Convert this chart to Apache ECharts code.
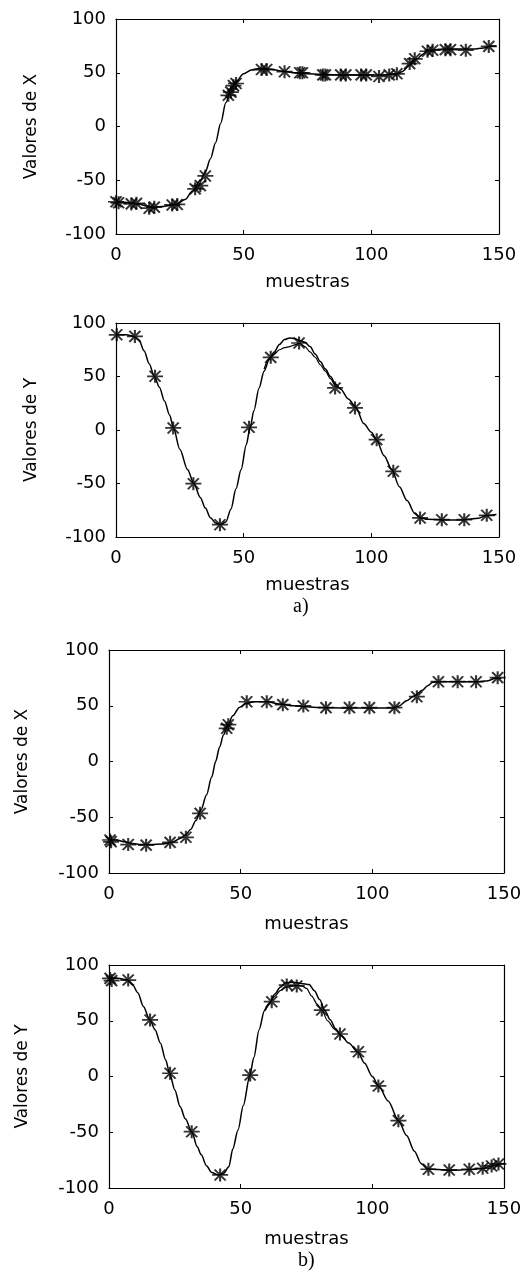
<!DOCTYPE html>
<html>
<head>
<meta charset="utf-8">
<script src="https://cdn.jsdelivr.net/npm/echarts@6/dist/echarts.min.js"></script>
<style>
html,body{margin:0;padding:0;background:#fff;}
#c{width:532px;height:1273px;}
</style>
</head>
<body>
<div id="c"></div>
<script>
// ---------- DATA ----------
const xTicks = [0, 50, 100, 150];
const yTicks = [-100, -50, 0, 50, 100];
const xName = 'muestras';
const yNames = ['Valores de X', 'Valores de Y', 'Valores de X', 'Valores de Y'];
const panelLabels = ['a)', 'b)'];

// Panel a) X : real trajectory [muestra, valor]
const realXa = [[0,-70],[3,-70.5],[6,-71],[9,-72],[12,-74],[15,-75],[18,-74.5],[21,-73.5],[24,-72],[27,-68],[30,-60],[33,-50],[35,-42],[37,-30],[39,-15],[41,3],[43,22],[45,34],[47,42],[50,49],[53,52.5],[56,54],[60,53.5],[65,51.5],[70,50],[75,49],[80,48.5],[90,48],[100,48],[105,48],[110,49],[112,51],[115,57],[118,63],[120,67],[122,70.5],[125,71.5],[130,72],[135,72],[140,72],[144,73],[147,75],[149,75]];
// Panel a) X : estimated samples (stars)
const estXa = [[0,-70],[1,-71],[6,-72],[8,-71.5],[13,-76],[15,-75],[22,-73],[24,-72.5],[31,-58],[33,-55],[35,-46],[44,29],[45,32],[46,38],[47,40],[57,53],[59,53],[66,51],[72,50],[73,50],[81,48],[82,48],[88,48],[90,48],[96,48],[98,48],[103,46.5],[107,48],[110,49],[115,58.5],[117,63],[122,70],[124,71],[129,71.5],[131,71.5],[137,71],[146,74.5]];

// Panel a) Y
const realYa = [[0,89],[4,89],[7,87.5],[9,84],[11,74],[13,62],[15,50],[17,40],[19,27],[21,14],[22.5,2],[25,-18],[28,-37],[30.5,-50],[33,-63],[35,-73],[37,-82],[39,-87],[41,-88.5],[43,-86],[45,-74],[47,-55],[49,-37],[51,-14],[52.5,2],[54,18],[56,39],[58,55],[60,66],[62,73],[64,80],[66,84.5],[68,86],[70,85.5],[72,83.5],[74,82],[76,78],[78,71],[80,64],[82,57],[84,50],[86,43],[88,38],[91,29],[94,21],[97,6],[100,-2],[102,-9],[105,-24],[108,-37],[111,-53],[114,-66],[117,-78],[119,-82],[122,-83.5],[128,-84],[136,-84],[142,-82.5],[145,-80],[149,-79]];
const estLineYa = [[58,57],[60,67],[62,71],[64,75],[66,77],[68,78],[70,79.5],[72,81],[74,78],[76,73],[78,68],[80,61],[82,55],[84,48],[86,41],[88,38]];
const estYa = [[0.3,89],[7.4,87.5],[15.3,50.2],[22.4,1.9],[30.3,-50.2],[40.7,-88.5],[52.1,2.5],[60.6,67.9],[71.7,81.3],[85.8,39.3],[93.6,20.6],[102.1,-9],[108.6,-38.6],[119.1,-82.2],[127.6,-83.8],[136.4,-83.8],[145.2,-79.7]];

// Panel b) X
const realXb = [[0,-70],[3,-70.5],[6,-72],[9,-73.5],[12,-74.5],[16,-74.5],[20,-74],[24,-72.5],[27,-69],[29,-66],[31,-61],[33,-53],[35,-43],[37,-30],[39,-14],[40.5,0],[42,13],[43.5,24],[45,32],[47,41],[49.5,48.5],[52,52],[55,53.5],[60,53.5],[65,51.5],[70,50],[75,49],[80,48.5],[90,48],[100,48],[108,48],[110,49.5],[113,54.5],[116,59],[119,64],[121,68],[123,71],[126,71.5],[132,71.5],[140,71.5],[144,72.5],[147,75],[149,74.5]];
const estXb = [[0.4,-70.4],[0.8,-72],[7.3,-74.5],[14.1,-75],[23.2,-72.5],[29.2,-68],[34.6,-46.5],[44.7,29.8],[45.3,33],[52.3,53.6],[59.9,53.6],[66,51],[73.8,49.8],[82.4,48.3],[91.3,48.3],[98.9,48.3],[108.4,48.3],[116.9,58.1],[125.1,71.6],[132.4,71.6],[139.4,71.6],[147.6,75.2]];

// Panel b) Y
const realYb = [[0,88.5],[4,88],[7,86.5],[9,82],[11,75],[13,63],[15.5,51],[17.5,42],[19.5,30],[21.5,15],[23,3],[25,-12],[27,-27],[29,-38],[31.5,-50],[33.5,-63],[35,-70],[37,-80],[39,-86],[41.5,-88.3],[43.5,-87],[45.5,-81],[47,-65],[49,-48],[51,-26],[53.5,1],[55,17],[57,42],[59,59],[61,66],[63,74],[65,80],[67,84],[70,84.5],[73,83.5],[76,82.5],[78,77],[80,69],[82,59],[84,51],[86,43],[88,37],[91,30],[94.5,22],[97,12],[100,0],[102.5,-9],[106,-22],[110,-40],[113,-53],[116,-67],[118.5,-78],[121,-83],[125,-83.5],[130,-84],[137,-83.5],[142,-82.5],[145,-80.5],[148,-78.5],[150,-78]];
const estLineYb = [[59,59],[61,66],[63,72],[65,77],[67,80],[69,81],[71,81.5],[73,81.5],[75,79],[77,72],[79,65],[80.8,59.6],[83,50],[85.5,43],[88,37]];
const estYb = [[0.4,88],[1,86],[7.3,86.5],[15.6,50.7],[23.2,2.9],[31.4,-49.5],[42.2,-88.3],[53.6,1.3],[61.8,67.1],[67.5,82],[71.3,81.2],[80.8,59.6],[87.7,38.1],[94.7,22.2],[102.3,-8.5],[109.9,-39.6],[121.3,-83.2],[129.2,-83.8],[136.8,-83.2],[141.9,-82.3],[145.3,-80.2],[147.9,-78.4]];

// ---------- CHART ----------
const FONT = 'DejaVu Sans';
const STAR = 'path://M8 0L8 13M0 6.5L16 6.5M2.5 1L13.5 12M2.5 12L13.5 1';
const grids = [
  {left:116, top:19,  width:383, height:215, gapX:39, gapY:76},
  {left:116, top:323, width:383, height:214, gapX:39, gapY:76},
  {left:109, top:650, width:395, height:223, gapX:42, gapY:78},
  {left:109, top:965, width:395, height:223, gapX:42, gapY:78}
];
const realSets = [realXa, realYa, realXb, realYb];
const starSets = [estXa, estYa, estXb, estYb];
const estLines = [null, estLineYa, null, estLineYb];

const option = {
  animation: false,
  backgroundColor: '#fff',
  grid: [], xAxis: [], yAxis: [], series: [],
  graphic: []
};
const lineSty = {show:true, onZero:false, lineStyle:{color:'#000', width:1.2}};
const tickSty = {show:true, inside:true, length:4, lineStyle:{color:'#000', width:1}};
const lbl = {color:'#000', fontFamily:FONT, fontSize:18};

grids.forEach((g, i) => {
  option.grid.push({left:g.left, top:g.top, width:g.width, height:g.height, containLabel:false});
  const xb = option.xAxis.length;
  option.xAxis.push({
    type:'value', gridIndex:i, position:'bottom', min:xTicks[0], max:xTicks[xTicks.length-1], interval:50,
    axisLine:lineSty, axisTick:tickSty, splitLine:{show:false},
    axisLabel:Object.assign({margin:12}, lbl),
    name:xName, nameLocation:'middle', nameGap:g.gapX,
    nameTextStyle:{color:'#000', fontFamily:FONT, fontSize:18}
  });
  option.xAxis.push({
    type:'value', gridIndex:i, position:'top', min:0, max:150, interval:50,
    axisLine:lineSty, axisTick:tickSty, splitLine:{show:false}, axisLabel:{show:false}
  });
  const yb = option.yAxis.length;
  option.yAxis.push({
    type:'value', gridIndex:i, position:'left', min:yTicks[0], max:yTicks[yTicks.length-1], interval:50,
    axisLine:lineSty, axisTick:tickSty, splitLine:{show:false},
    axisLabel:Object.assign({margin:10}, lbl),
    name:yNames[i], nameLocation:'middle', nameGap:g.gapY,
    nameTextStyle:{color:'#000', fontFamily:FONT, fontSize:17}
  });
  option.yAxis.push({
    type:'value', gridIndex:i, position:'right', min:-100, max:100, interval:50,
    axisLine:lineSty, axisTick:tickSty, splitLine:{show:false}, axisLabel:{show:false}
  });
  option.series.push({
    type:'line', xAxisIndex:xb, yAxisIndex:yb, data:realSets[i], showSymbol:false,
    smooth:0.3, smoothMonotone:'x', lineStyle:{color:'#000', width:1.5}, z:3
  });
  if (estLines[i]) {
    option.series.push({
      type:'line', xAxisIndex:xb, yAxisIndex:yb, data:estLines[i], showSymbol:false,
      smooth:0.3, smoothMonotone:'x', lineStyle:{color:'#000', width:1.2}, z:3
    });
  }
  option.series.push({
    type:'scatter', xAxisIndex:xb, yAxisIndex:yb, data:starSets[i],
    symbol:STAR, symbolSize:[16,13],
    itemStyle:{color:'rgba(0,0,0,0)', borderColor:'#000', borderWidth:1.9}, z:4
  });
});

option.graphic.push({type:'text', left:293, top:597, style:{text:panelLabels[0], fill:'#000', font:'20px "Liberation Serif"'}});
option.graphic.push({type:'text', left:298, top:1251, style:{text:panelLabels[1], fill:'#000', font:'20px "Liberation Serif"'}});

const chart = echarts.init(document.getElementById('c'), null, {renderer:'canvas'});
chart.setOption(option);
</script>
</body>
</html>
